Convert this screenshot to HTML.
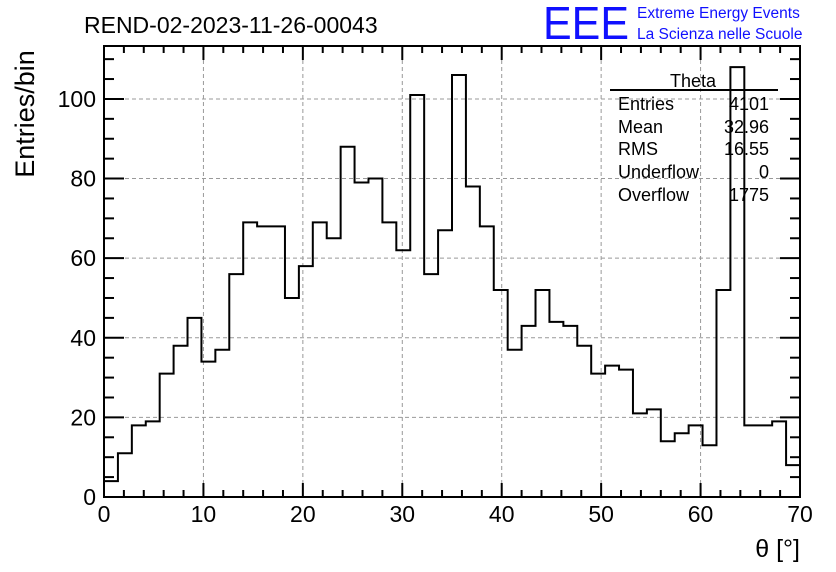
<!DOCTYPE html>
<html><head><meta charset="utf-8"><style>
body{margin:0;background:#fff;}
svg{display:block;font-family:"Liberation Sans",Arial,sans-serif;}
</style></head><body>
<svg id="chart" width="836" height="572">
<rect width="836" height="572" fill="#fff"/>
<g id="grid"></g>
<g id="axes"></g>
<path id="hist" fill="none" stroke="#000" stroke-width="2"/>
<rect x="104" y="46" width="696" height="451" fill="none" stroke="#000" stroke-width="2"/>
<text x="84" y="33" font-size="23">REND-02-2023-11-26-00043</text>
<text x="543" y="39" font-size="46" fill="#1010ff" textLength="86" lengthAdjust="spacingAndGlyphs">EEE</text>
<text x="637" y="18" font-size="15.5" fill="#1010ff">Extreme Energy Events</text>
<text x="637" y="39" font-size="15.5" fill="#1010ff">La Scienza nelle Scuole</text>
<text transform="translate(34,114) rotate(-90)" text-anchor="middle" font-size="27">Entries/bin</text>
<text x="800" y="557" text-anchor="end" font-size="25">θ [°]</text>
<g font-size="18">
<text x="693" y="87" text-anchor="middle">Theta</text>
<line x1="610" y1="90" x2="778" y2="90" stroke="#000" stroke-width="2"/>
<text x="618" y="110">Entries</text><text x="769" y="110" text-anchor="end">4101</text>
<text x="618" y="133">Mean</text><text x="769" y="133" text-anchor="end">32.96</text>
<text x="618" y="155">RMS</text><text x="769" y="155" text-anchor="end">16.55</text>
<text x="618" y="178">Underflow</text><text x="769" y="178" text-anchor="end">0</text>
<text x="618" y="201">Overflow</text><text x="769" y="201" text-anchor="end">1775</text>
</g>
</svg>
<script>
const binCounts=[4,11,18,19,31,38,45,34,37,56,69,68,68,50,58,69,65,88,79,80,69,62,101,56,67,106,78,68,52,37,43,52,44,43,38,31,33,32,21,22,14,16,18,13,52,108,18,18,19,8];
const xTicks=[0,10,20,30,40,50,60,70];
const yTicks=[0,20,40,60,80,100];
const xMin=0,xMax=70,yMin=0,yMax=113.3;
const L=104,R=800,T=46,B=497;
const sx=v=>L+(v-xMin)/(xMax-xMin)*(R-L);
const sy=v=>B-(v-yMin)/(yMax-yMin)*(B-T);
const NS="http://www.w3.org/2000/svg";
const grid=document.getElementById('grid'),axes=document.getElementById('axes');
function mk(tag,at,parent){const e=document.createElementNS(NS,tag);for(const k in at)e.setAttribute(k,at[k]);parent.appendChild(e);return e;}
xTicks.forEach(v=>{
 if(v>xMin&&v<xMax){const g=mk('line',{x1:sx(v),x2:sx(v),y1:T,y2:B,stroke:'#999','stroke-dasharray':'4,3'},grid);
 
 }
 const t=mk('text',{x:sx(v),y:522,'text-anchor':'middle','font-size':'23'},axes);t.textContent=v;
 
 
});
for(let v=xMin;v<=xMax+0.01;v+=2){const maj=v%10===0;const len=maj?14:7;
 mk('line',{x1:sx(v),x2:sx(v),y1:B,y2:B-len,stroke:'#000','stroke-width':2},axes);
 mk('line',{x1:sx(v),x2:sx(v),y1:T,y2:T+len,stroke:'#000','stroke-width':2},axes);}
yTicks.forEach(v=>{
 if(v>yMin){const g=mk('line',{x1:L,x2:R,y1:sy(v),y2:sy(v),stroke:'#999','stroke-dasharray':'4,3'},grid);
 
 }
 const t=mk('text',{x:96,y:sy(v)+8,'text-anchor':'end','font-size':'23'},axes);t.textContent=v;
 
 
});
for(let v=yMin;v<=yMax;v+=5){const maj=v%20===0;const len=maj?20:10;
 mk('line',{x1:L,x2:L+len,y1:sy(v),y2:sy(v),stroke:'#000','stroke-width':2},axes);
 mk('line',{x1:R,x2:R-len,y1:sy(v),y2:sy(v),stroke:'#000','stroke-width':2},axes);}
const bw=(xMax-xMin)/binCounts.length;
let d='M'+sx(0)+','+sy(0);
binCounts.forEach((c,i)=>{d+=' L'+sx(i*bw)+','+sy(c)+' L'+sx((i+1)*bw)+','+sy(c);});
d+=' L'+sx(xMax)+','+sy(0);
document.getElementById('hist').setAttribute('d',d);
</script>
</body></html>
